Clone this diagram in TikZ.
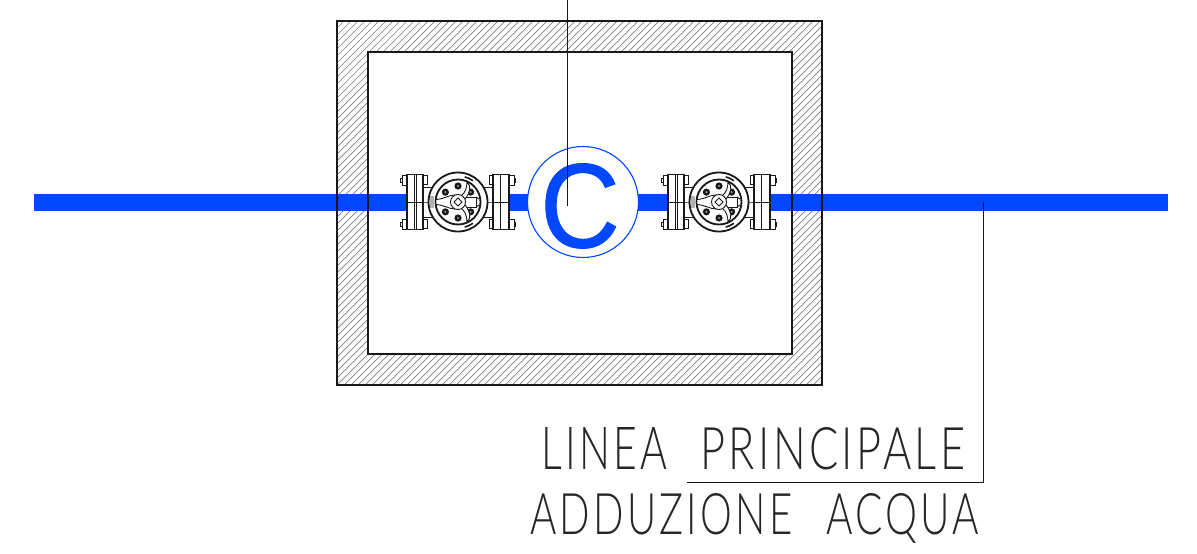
\documentclass[tikz,border=0pt]{standalone}
\usepackage{fontspec}
\usepackage{graphicx}
\setmainfont{Lato Light}
\newfontfamily\cfont[FakeBold=0.8]{Liberation Sans}
\definecolor{pipeblue}{RGB}{0,72,255}
\definecolor{ink}{RGB}{25,25,25}
\tikzset{
  wall/.style={draw=ink,line width=1.1pt},
  hatchline/.style={draw=black!50,line width=0.7pt},
  leader/.style={draw=ink,line width=1pt},
  wordlabel/.style={inner sep=0,anchor=base west,text=black!85},
  vline/.style={draw=ink,line width=0.9pt},
  vthick/.style={draw=ink,line width=1.6pt},
  bolthead/.style={draw=ink,line width=1pt,fill=white},
}
\newcommand{\wordbox}[3]{\resizebox{#1pt}{#2pt}{\fontsize{58pt}{58pt}\selectfont\addfontfeature{LetterSpace=8}#3}}
% one valve, drawn about its wheel centre
\newcommand{\valvebody}[1]{%
\begin{scope}[shift={(#1,202)}]
  \fill[white] (-51,-28) rectangle (51,28);
  % necks
  \foreach \xx in {-1,1} {
  \begin{scope}[xscale=\xx]
    \draw[vline] (24,-15) -- (35,-15) (24,15) -- (35,15);
    \draw[vline,draw=black!60] (26,0) -- (35,0);
    % bolts
    \foreach \yy in {-22,22} {
      \draw[bolthead] (31,\yy-4.5) rectangle (35,\yy+4.5);
      \draw[bolthead] (51,\yy-5) rectangle (56,\yy+5);
      \draw[vline] (56,\yy-2) -- (57.5,\yy-2) -- (57.5,\yy+2) -- (56,\yy+2);
    }
    % flange
    \draw[vthick,fill=white] (35,-27.5) rectangle (51,27.5);
    \draw[vline] (42,-27.5) -- (42,27.5);
    \draw[vline] (35,0) -- (51,0);
  \end{scope}}
  \draw[vline] (-44,-27.5) -- (-44,27.5);
  % wheel
  \draw[draw=ink,line width=1.8pt,fill=white] (0,0) circle (29.5);
  \draw[draw=ink,line width=1.8pt,fill=white] (0,0) circle (22.5);
  % rim marks
  \fill[black!30] (-28,-6) rectangle (-24,6);
  \draw[ink,line width=1.6pt] (55:26) arc (55:75:26);
  \draw[ink,line width=1.6pt] (-55:26) arc (-55:-75:26);
  % bolts inside
  \foreach \a in {38,90,142,218,270,322} {
    \fill[ink] (\a:16) circle (3.6);
    \fill[black!40] (\a:16) circle (1.2);
  }
  % right window
  \draw[vline,fill=white] (5,-5) rectangle (18,5);
  \draw[vline] (18,-5) -- (21,-3) (18,5) -- (21,3);
  % spokes
  \draw[vline,fill=white] (-22,-2.5) .. controls (-14,-3) and (-9,-7) .. (-3,-7) -- (-3,7)
     .. controls (-9,7) and (-14,3) .. (-22,2.5) -- cycle;
  \draw[vline,fill=white] (3,-6) .. controls (7,-9) and (9,-14) .. (9,-20)
     .. controls (14,-16) and (12,-9) .. (7,-3) -- cycle;
  \draw[vline,fill=white] (3,6) .. controls (7,9) and (9,14) .. (9,20)
     .. controls (14,16) and (12,9) .. (7,3) -- cycle;
  % hub
  \draw[vline,fill=white] (0,0) circle (7.5);
  \draw[vline] (0,-4) -- (4,0) -- (0,4) -- (-4,0) -- cycle;
\end{scope}}
\begin{document}
\begin{tikzpicture}[x=1pt,y=-1pt]
\useasboundingbox (0,0) rectangle (1197,554);
\fill[white] (0,0) rectangle (1197,554);
% wall hatching
\begin{scope}
  \clip (337,21) rectangle (822,385);
  \foreach \hx in {-27,-20,...,822}
    \draw[hatchline] (\hx,385) -- (\hx+364,21);
\end{scope}
\fill[white] (368,52) rectangle (792,354);
% pipe
\fill[pipeblue] (34,194) rectangle (1168,211);
% walls
\draw[wall] (337,21) rectangle (822,385);
\draw[wall] (368,52) rectangle (792,354);
% valves
\valvebody{458}
\valvebody{719}
% cover symbol
\node (cbadge) [circle,draw=pipeblue,fill=white,line width=1.1pt,minimum size=111pt,inner sep=0] at (583,202) {};
\node (cletter) [text=pipeblue,inner sep=0,xscale=0.92] at (580,206) {\cfont\fontsize{120pt}{120pt}\selectfont C};
% leaders
\coordinate (leadtop) at (567,0);
\coordinate (leadend) at (567,206);
\draw[leader] (leadtop) -- (leadend);
\coordinate (pipetap) at (983,202);
\coordinate (elbow) at (983,482);
\coordinate (ledger) at (687,482);
\draw[leader] (pipetap) -- (elbow) -- (ledger);
% labels
\node (l1a) [wordlabel] at (541,469) {\wordbox{126}{42}{LINEA}};
\node (l1b) [wordlabel] at (700,469) {\wordbox{265}{42}{PRINCIPALE}};
\node (l2a) [wordlabel] at (530,534) {\wordbox{262}{41}{ADDUZIONE}};
\node (l2b) [wordlabel] at (826,534) {\wordbox{153}{41}{ACQUA}};
\end{tikzpicture}
\end{document}
